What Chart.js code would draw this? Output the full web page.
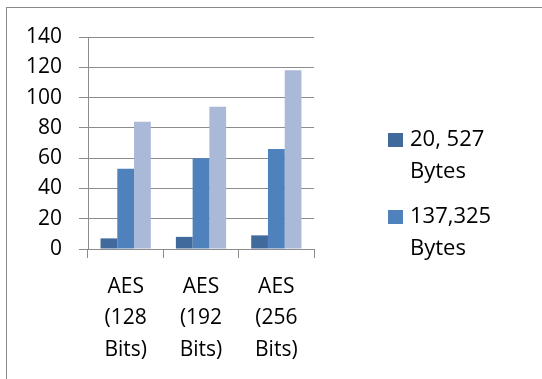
<!DOCTYPE html>
<html>
<head>
<meta charset="utf-8">
<script src="https://cdn.jsdelivr.net/npm/chart.js@4.4.0/dist/chart.umd.min.js"></script>
<style>
  html, body { margin: 0; padding: 0; background: #fff; }
  #wrap { width: 542px; height: 379px; position: relative; }
</style>
</head>
<body>
<div id="wrap"><canvas id="aesChart" width="542" height="379"></canvas></div>
<script>
const categories = [["AES", "(128", "Bits)"], ["AES", "(192", "Bits)"], ["AES", "(256", "Bits)"]];
const seriesNames = [["20, 527", "Bytes"], ["137,325", "Bytes"], ["Third file", "Bytes"]];
const smallFile = [7, 8, 9];
const mediumFile = [53, 60, 66];
const largeFile = [84, 94, 118];
const yTicks = [0, 20, 40, 60, 80, 100, 120, 140];

const colors = ["#40699c", "#4f81bd", "#aab9d7"];
const fontFam = "'Open Sans', 'Noto Sans', sans-serif";
const gridGray = "#8c8c8c";

// frame round the chart + legend on the right (only 2 entries fit, like the original)
const extras = {
  id: "extras",
  beforeDraw(chart) {
    const ctx = chart.ctx;
    ctx.save();
    ctx.strokeStyle = "#8a8a8a";
    ctx.lineWidth = 1;
    ctx.strokeRect(6.5, 7.5, 700, 700);
    ctx.restore();
  },
  afterDraw(chart) {
    const ctx = chart.ctx;
    ctx.save();
    ctx.font = "22px " + fontFam;
    ctx.textBaseline = "middle";
    const tops = [140, 217];
    for (let i = 0; i < 2; i++) {
      const ds = chart.data.datasets[i];
      ctx.fillStyle = ds.backgroundColor;
      ctx.fillRect(388, tops[i] - 7, 15, 14);
      ctx.fillStyle = "#000";
      ds.label.forEach((line, j) => ctx.fillText(line, 410, tops[i] + j * 31.5));
    }
    ctx.restore();
  }
};

new Chart(document.getElementById("aesChart"), {
  type: "bar",
  data: {
    labels: categories,
    datasets: [
      { label: seriesNames[0], data: smallFile, backgroundColor: colors[0] },
      { label: seriesNames[1], data: mediumFile, backgroundColor: colors[1] },
      { label: seriesNames[2], data: largeFile, backgroundColor: colors[2] }
    ]
  },
  options: {
    responsive: false,
    animation: false,
    layout: { padding: { top: 37, right: 228, left: 0, bottom: 0 } },
    plugins: { legend: { display: false }, tooltip: { enabled: false } },
    datasets: { bar: { barPercentage: 1, categoryPercentage: 0.667 } },
    scales: {
      x: {
        grid: { drawOnChartArea: false, drawTicks: true, tickLength: 9, color: gridGray, offset: true },
        border: { color: gridGray },
        ticks: { color: "#000", font: { family: fontFam, size: 21, lineHeight: 1.5 }, padding: 13, maxRotation: 0 },
        afterFit(scale) { scale.height = 130; }
      },
      y: {
        min: 0,
        max: 140,
        afterBuildTicks(scale) { scale.ticks = yTicks.map(v => ({ value: v })); },
        grid: { color: gridGray, tickLength: 9 },
        border: { color: gridGray },
        ticks: { color: "#000", font: { family: fontFam, size: 21 }, padding: 17 },
        afterFit(scale) { scale.width = 88; }
      }
    }
  },
  plugins: [extras]
});
</script>
</body>
</html>
